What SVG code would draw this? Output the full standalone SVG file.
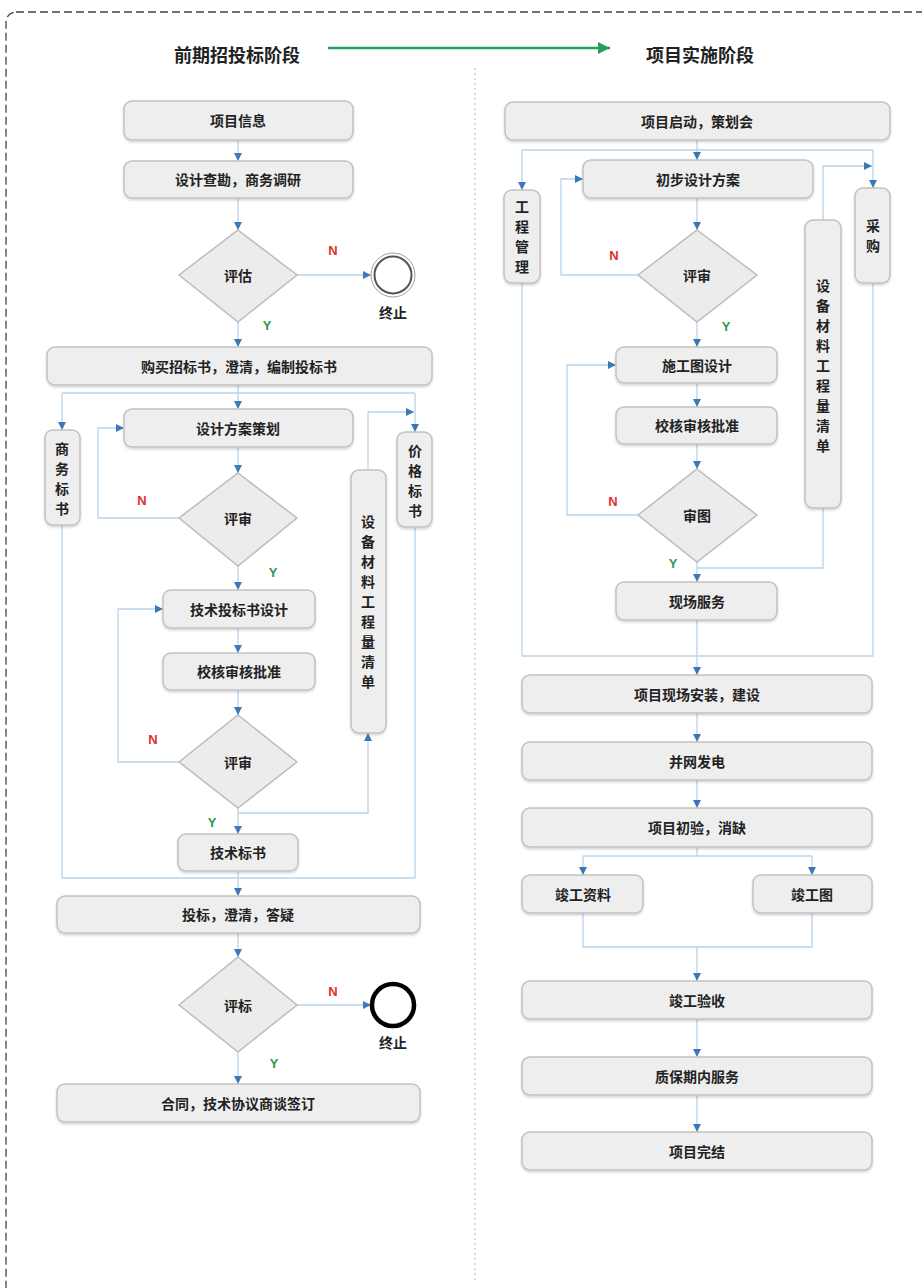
<svg xmlns="http://www.w3.org/2000/svg" width="922" height="1288" viewBox="0 0 922 1288">
<defs>
<style>
.nd{fill:#eeeeee;stroke:#c2c2c2;stroke-width:1.5;filter:url(#sh)}
.dm{fill:#ececec;stroke:#bcbcbc;stroke-width:1.5}
.t{font-family:"Noto Sans CJK SC","Noto Sans",sans-serif;font-size:14px;font-weight:bold;fill:#222;text-anchor:middle;dominant-baseline:central}
.h{font-family:"Noto Sans CJK SC","Noto Sans",sans-serif;font-size:18px;font-weight:bold;fill:#222;text-anchor:middle;dominant-baseline:central}
.c{fill:none;stroke:#b9d3ec;stroke-width:1.3}
.a{marker-end:url(#ar)}
.N{font-family:"Liberation Sans",Arial,sans-serif;font-size:13px;font-weight:bold;fill:#e0302a;text-anchor:middle;dominant-baseline:central}
.Y{font-family:"Liberation Sans",Arial,sans-serif;font-size:13px;font-weight:bold;fill:#2a9a4a;text-anchor:middle;dominant-baseline:central}
</style>
<marker id="ar" viewBox="0 0 10 10" refX="10" refY="5" markerWidth="8" markerHeight="8" markerUnits="userSpaceOnUse" orient="auto">
<path d="M0,0 L10,5 L0,10 z" fill="#3b78b8"/>
</marker>
<marker id="ag" viewBox="0 0 10 10" refX="10" refY="5" markerWidth="12" markerHeight="12" markerUnits="userSpaceOnUse" orient="auto">
<path d="M0,0 L10,5 L0,10 z" fill="#22a060"/>
</marker>
<filter id="sh" x="-10%" y="-20%" width="120%" height="150%">
<feDropShadow dx="0" dy="1.5" stdDeviation="1.2" flood-color="#000" flood-opacity="0.18"/>
</filter>
</defs>
<rect width="922" height="1288" fill="#fff"/>
<rect x="6" y="12" width="940" height="1300" rx="10" fill="none" stroke="#444" stroke-width="1.3" stroke-dasharray="8 4"/>
<line x1="475" y1="68" x2="475" y2="1282" stroke="#c8c8c8" stroke-width="1.3" stroke-dasharray="2 3"/>

<g id="header">
<text class="h" x="237" y="54">前期招投标阶段</text>
<line x1="328" y1="48" x2="610" y2="48" stroke="#22a060" stroke-width="2.5" marker-end="url(#ag)"/>
<text class="h" x="700" y="54">项目实施阶段</text>
</g>

<g id="connectors">
<line class="c a" x1="238" y1="140" x2="238" y2="161"/>
<line class="c a" x1="238" y1="198" x2="238" y2="230"/>
<line class="c a" x1="297" y1="275" x2="371" y2="275"/>
<line class="c a" x1="238" y1="322" x2="238" y2="347"/>
<line class="c" x1="238" y1="385" x2="238" y2="393"/>
<line class="c" x1="62" y1="393" x2="415" y2="393"/>
<line class="c a" x1="62" y1="393" x2="62" y2="430"/>
<line class="c a" x1="415" y1="393" x2="415" y2="432"/>
<line class="c a" x1="238" y1="393" x2="238" y2="409"/>
<line class="c a" x1="238" y1="447" x2="238" y2="473"/>
<polyline class="c a" points="179,518 98,518 98,428 124,428"/>
<line class="c a" x1="238" y1="566" x2="238" y2="590"/>
<line class="c a" x1="238" y1="628" x2="238" y2="653"/>
<line class="c a" x1="238" y1="690" x2="238" y2="715"/>
<polyline class="c a" points="179,762 118,762 118,609 163,609"/>
<line class="c a" x1="238" y1="808" x2="238" y2="834"/>
<polyline class="c a" points="238,813 368,813 368,733"/>
<polyline class="c a" points="368,470 368,412 414,412"/>
<polyline class="c" points="62,525 62,878 415,878 415,527"/>
<line class="c a" x1="238" y1="871" x2="238" y2="896"/>
<line class="c a" x1="238" y1="933" x2="238" y2="957"/>
<line class="c a" x1="297" y1="1005" x2="371" y2="1005"/>
<line class="c a" x1="238" y1="1052" x2="238" y2="1084"/>

<line class="c a" x1="697" y1="140" x2="697" y2="160"/>
<line class="c" x1="522" y1="150" x2="873" y2="150"/>
<line class="c a" x1="522" y1="150" x2="522" y2="190"/>
<line class="c a" x1="873" y1="150" x2="873" y2="188"/>
<line class="c a" x1="697" y1="198" x2="697" y2="230"/>
<polyline class="c a" points="638,275 561,275 561,179 583,179"/>
<line class="c a" x1="697" y1="322" x2="697" y2="347"/>
<line class="c a" x1="697" y1="383" x2="697" y2="407"/>
<line class="c a" x1="697" y1="444" x2="697" y2="469"/>
<polyline class="c a" points="638,515 567,515 567,365 616,365"/>
<line class="c a" x1="697" y1="562" x2="697" y2="582"/>
<polyline class="c" points="823,508 823,568 697,568"/>
<polyline class="c a" points="823,220 823,166 872,166"/>
<polyline class="c" points="522,283 522,656 873,656 873,283"/>
<line class="c a" x1="697" y1="620" x2="697" y2="675"/>
<line class="c a" x1="697" y1="713" x2="697" y2="742"/>
<line class="c a" x1="697" y1="780" x2="697" y2="808"/>
<line class="c" x1="697" y1="847" x2="697" y2="856"/>
<line class="c" x1="583" y1="856" x2="812" y2="856"/>
<line class="c a" x1="583" y1="856" x2="583" y2="875"/>
<line class="c a" x1="812" y1="856" x2="812" y2="875"/>
<polyline class="c" points="583,913 583,947 812,947 812,913"/>
<line class="c a" x1="697" y1="947" x2="697" y2="981"/>
<line class="c a" x1="697" y1="1019" x2="697" y2="1057"/>
<line class="c a" x1="697" y1="1095" x2="697" y2="1132"/>
</g>

<g id="labels">
<text class="N" x="333" y="250">N</text>
<text class="Y" x="267" y="325">Y</text>
<text class="N" x="142" y="500">N</text>
<text class="Y" x="273" y="572">Y</text>
<text class="N" x="153" y="739">N</text>
<text class="Y" x="212" y="822">Y</text>
<text class="N" x="333" y="991">N</text>
<text class="Y" x="274" y="1063">Y</text>
<text class="N" x="614" y="255">N</text>
<text class="Y" x="726" y="326">Y</text>
<text class="N" x="613" y="501">N</text>
<text class="Y" x="673" y="563">Y</text>
</g>

<g id="n-xmxx"><rect class="nd" x="124" y="101" width="229" height="39" rx="8"/><text class="t" x="238" y="120">项目信息</text></g>
<g id="n-sjkc"><rect class="nd" x="124" y="161" width="229" height="37" rx="8"/><text class="t" x="238" y="179">设计查勘，商务调研</text></g>
<g id="d-pg"><polygon class="dm" points="238,230 297,275 238,322 179,275"/><text class="t" x="238" y="275">评估</text></g>
<g id="end1"><circle cx="393" cy="275" r="22" fill="#fff" stroke="#a0a0a0" stroke-width="1"/><circle cx="393" cy="275" r="18.5" fill="#fff" stroke="#555" stroke-width="2"/><text class="t" x="393" y="312">终止</text></g>
<g id="n-gmzb"><rect class="nd" x="47" y="347" width="385" height="38" rx="8"/><text class="t" x="239" y="366">购买招标书，澄清，编制投标书</text></g>
<g id="n-swbs"><rect class="nd" x="45" y="430" width="35" height="95" rx="8"/><text class="t"><tspan x="62" y="448">商</tspan><tspan x="62" y="468">务</tspan><tspan x="62" y="488">标</tspan><tspan x="62" y="508">书</tspan></text></g>
<g id="n-jgbs"><rect class="nd" x="397" y="432" width="35" height="95" rx="8"/><text class="t"><tspan x="415" y="450">价</tspan><tspan x="415" y="470">格</tspan><tspan x="415" y="490">标</tspan><tspan x="415" y="510">书</tspan></text></g>
<g id="n-sjfa"><rect class="nd" x="124" y="409" width="229" height="38" rx="8"/><text class="t" x="238" y="428">设计方案策划</text></g>
<g id="d-ps1"><polygon class="dm" points="238,473 297,518 238,566 179,518"/><text class="t" x="238" y="518">评审</text></g>
<g id="n-jstb"><rect class="nd" x="163" y="590" width="152" height="38" rx="8"/><text class="t" x="239" y="609">技术投标书设计</text></g>
<g id="n-jhsh1"><rect class="nd" x="163" y="653" width="152" height="37" rx="8"/><text class="t" x="239" y="671">校核审核批准</text></g>
<g id="n-sbcl1"><rect class="nd" x="351" y="470" width="35" height="263" rx="8"/><text class="t"><tspan x="368" y="521">设</tspan><tspan x="368" y="541">备</tspan><tspan x="368" y="561">材</tspan><tspan x="368" y="581">料</tspan><tspan x="368" y="601">工</tspan><tspan x="368" y="621">程</tspan><tspan x="368" y="641">量</tspan><tspan x="368" y="661">清</tspan><tspan x="368" y="681">单</tspan></text></g>
<g id="d-ps2"><polygon class="dm" points="238,715 297,762 238,808 179,762"/><text class="t" x="238" y="762">评审</text></g>
<g id="n-jsbs"><rect class="nd" x="178" y="834" width="120" height="37" rx="8"/><text class="t" x="238" y="852">技术标书</text></g>
<g id="n-tb"><rect class="nd" x="57" y="896" width="363" height="37" rx="8"/><text class="t" x="238" y="914">投标，澄清，答疑</text></g>
<g id="d-pb"><polygon class="dm" points="238,957 297,1005 238,1052 179,1005"/><text class="t" x="238" y="1005">评标</text></g>
<g id="end2"><circle cx="393" cy="1005" r="21" fill="#fff" stroke="#000" stroke-width="4.5"/><text class="t" x="393" y="1042">终止</text></g>
<g id="n-ht"><rect class="nd" x="57" y="1084" width="363" height="38" rx="8"/><text class="t" x="238" y="1103">合同，技术协议商谈签订</text></g>

<g id="n-xmqd"><rect class="nd" x="505" y="102" width="385" height="38" rx="8"/><text class="t" x="697" y="121">项目启动，策划会</text></g>
<g id="n-gcgl"><rect class="nd" x="504" y="190" width="36" height="93" rx="8"/><text class="t"><tspan x="522" y="206">工</tspan><tspan x="522" y="226">程</tspan><tspan x="522" y="246">管</tspan><tspan x="522" y="266">理</tspan></text></g>
<g id="n-cg"><rect class="nd" x="855" y="188" width="35" height="95" rx="8"/><text class="t"><tspan x="873" y="225">采</tspan><tspan x="873" y="245">购</tspan></text></g>
<g id="n-cbsj"><rect class="nd" x="583" y="160" width="230" height="38" rx="8"/><text class="t" x="698" y="179">初步设计方案</text></g>
<g id="d-ps3"><polygon class="dm" points="697,230 757,275 697,322 638,275"/><text class="t" x="697" y="275">评审</text></g>
<g id="n-sbcl2"><rect class="nd" x="805" y="220" width="36" height="288" rx="8"/><text class="t"><tspan x="823" y="285">设</tspan><tspan x="823" y="305">备</tspan><tspan x="823" y="325">材</tspan><tspan x="823" y="345">料</tspan><tspan x="823" y="365">工</tspan><tspan x="823" y="385">程</tspan><tspan x="823" y="405">量</tspan><tspan x="823" y="425">清</tspan><tspan x="823" y="445">单</tspan></text></g>
<g id="n-sgt"><rect class="nd" x="616" y="347" width="161" height="36" rx="8"/><text class="t" x="697" y="365">施工图设计</text></g>
<g id="n-jhsh2"><rect class="nd" x="616" y="407" width="161" height="37" rx="8"/><text class="t" x="697" y="425">校核审核批准</text></g>
<g id="d-st"><polygon class="dm" points="697,469 757,515 697,562 638,515"/><text class="t" x="697" y="515">审图</text></g>
<g id="n-xcfw"><rect class="nd" x="616" y="582" width="161" height="38" rx="8"/><text class="t" x="697" y="601">现场服务</text></g>
<g id="n-xcaz"><rect class="nd" x="522" y="675" width="350" height="38" rx="8"/><text class="t" x="697" y="694">项目现场安装，建设</text></g>
<g id="n-bwfd"><rect class="nd" x="522" y="742" width="350" height="38" rx="8"/><text class="t" x="697" y="761">并网发电</text></g>
<g id="n-cy"><rect class="nd" x="522" y="808" width="350" height="39" rx="8"/><text class="t" x="697" y="827">项目初验，消缺</text></g>
<g id="n-jgzl"><rect class="nd" x="522" y="875" width="121" height="38" rx="8"/><text class="t" x="583" y="894">竣工资料</text></g>
<g id="n-jgt"><rect class="nd" x="753" y="875" width="119" height="38" rx="8"/><text class="t" x="812" y="894">竣工图</text></g>
<g id="n-jgys"><rect class="nd" x="522" y="981" width="350" height="38" rx="8"/><text class="t" x="697" y="1000">竣工验收</text></g>
<g id="n-zb"><rect class="nd" x="522" y="1057" width="350" height="38" rx="8"/><text class="t" x="697" y="1076">质保期内服务</text></g>
<g id="n-wj"><rect class="nd" x="522" y="1132" width="350" height="38" rx="8"/><text class="t" x="697" y="1151">项目完结</text></g>
</svg>
